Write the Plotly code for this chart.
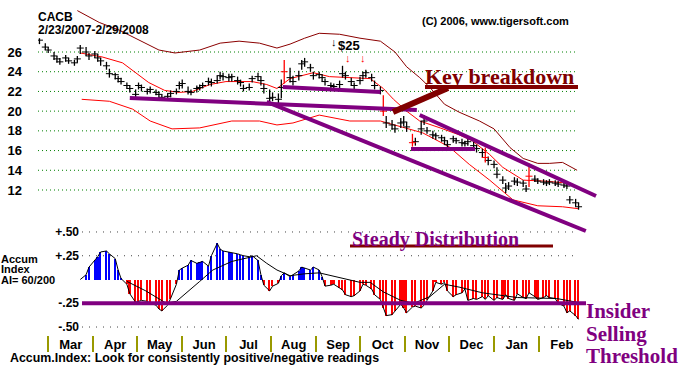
import pandas as pd
import plotly.graph_objects as go

# ---------------- data ----------------
dates = list(pd.bdate_range("2007-02-23", "2008-02-29")[::2])

close = [27.2, 26.5, 26.2, 25.6, 25.3, 25.0, 25.4, 25.1, 24.9, 25.3,
         26.4, 26.0, 25.6, 25.8, 25.4, 25.1, 24.6, 23.8, 23.7, 23.3,
         23.0, 22.6, 22.3, 21.7, 22.6, 22.4, 22.0, 22.2, 21.9, 21.7,
         21.4, 21.5, 21.8, 22.0, 22.6, 22.8, 22.0, 21.9, 22.3, 22.4,
         22.6, 23.0, 22.9, 23.1, 23.6, 23.5, 23.4, 23.5, 23.1, 22.9,
         22.3, 22.4, 23.3, 23.5, 23.1, 22.3, 21.3, 21.4, 21.2, 22.4,
         24.0, 23.4, 23.0, 23.6, 24.8, 25.0, 24.4, 23.6, 23.7, 23.4,
         23.0, 22.6, 22.5, 22.7, 23.8, 23.6, 23.0, 22.6, 23.1, 23.6,
         23.9, 23.4, 22.6, 22.1, 20.0, 18.8, 18.6, 18.2, 18.8, 18.9,
         18.4, 16.8, 16.9, 18.2, 19.0, 18.0, 17.6, 17.5, 17.3, 17.0,
         16.6, 17.2, 17.0, 16.8, 16.7, 16.9, 16.5, 16.2, 15.8, 15.3,
         15.0, 14.6, 13.6, 13.0, 12.2, 12.4, 12.9, 12.8, 12.7, 12.1,
         13.4, 13.1, 12.9, 12.8, 12.7, 12.8, 12.7, 12.6, 12.5, 12.4,
         11.0, 10.7, 10.3]
high = [27.4, 26.9, 26.5, 26.0, 25.6, 25.4, 25.7, 25.4, 25.2, 25.6,
        26.7, 26.5, 25.9, 26.1, 25.8, 25.4, 25.0, 24.3, 23.9, 23.6,
        23.4, 22.9, 22.6, 22.2, 22.9, 22.7, 22.3, 22.5, 22.2, 22.0,
        21.7, 21.8, 22.1, 22.3, 23.0, 23.2, 22.5, 22.2, 22.6, 22.7,
        22.9, 23.4, 23.3, 23.6, 24.0, 23.9, 23.8, 23.8, 23.5, 23.2,
        22.7, 22.8, 23.6, 23.9, 23.5, 22.8, 22.2, 21.9, 21.8, 23.2,
        25.2, 24.4, 23.6, 24.1, 25.2, 25.4, 24.8, 24.0, 24.0, 23.7,
        23.3, 22.9, 22.8, 23.1, 24.6, 24.0, 23.4, 22.9, 23.5, 24.0,
        24.2, 23.8, 23.1, 22.5, 21.6, 19.5, 19.1, 18.6, 19.3, 19.5,
        18.9, 17.7, 17.3, 19.0, 19.6, 18.4, 18.0, 17.8, 17.6, 17.4,
        17.0, 17.5, 17.3, 17.2, 17.0, 17.2, 16.9, 16.6, 16.2, 16.3,
        15.4, 15.0, 14.3, 13.4, 12.7, 12.8, 13.3, 13.2, 13.0, 12.5,
        14.7, 13.5, 13.2, 13.1, 13.0, 13.1, 13.0, 12.9, 12.8, 12.7,
        11.4, 11.1, 10.7]
low = [26.8, 26.2, 25.9, 25.2, 24.9, 24.7, 25.0, 24.8, 24.6, 24.9,
       25.8, 25.6, 25.2, 25.4, 25.0, 24.6, 24.2, 23.4, 23.2, 22.9,
       22.7, 22.3, 21.9, 21.3, 22.2, 22.0, 21.7, 21.8, 21.6, 21.3,
       21.1, 21.1, 21.4, 21.7, 22.2, 22.3, 21.7, 21.6, 21.9, 22.1,
       22.3, 22.6, 22.5, 22.8, 23.2, 23.1, 23.0, 23.0, 22.7, 22.5,
       22.0, 22.1, 22.9, 23.1, 22.6, 21.8, 20.8, 21.0, 20.8, 21.3,
       22.8, 22.9, 22.6, 23.1, 24.2, 24.5, 24.0, 23.2, 23.3, 23.0,
       22.6, 22.2, 22.1, 22.3, 23.4, 23.2, 22.6, 22.2, 22.7, 23.2,
       23.4, 23.0, 22.2, 21.7, 19.5, 18.3, 18.1, 17.8, 18.3, 18.5,
       17.9, 16.4, 16.5, 17.6, 18.6, 17.7, 17.2, 17.1, 16.9, 16.6,
       16.3, 16.8, 16.7, 16.4, 16.4, 16.5, 16.1, 15.8, 15.3, 14.8,
       14.5, 14.2, 13.2, 12.6, 11.7, 12.0, 12.5, 12.4, 12.3, 11.8,
       12.3, 12.8, 12.6, 12.5, 12.4, 12.5, 12.4, 12.3, 12.2, 12.1,
       10.6, 10.3, 10.0]
red_bars = [60, 84, 91, 109, 120]

upper_dates = ["2007-03-21", "2007-04-05", "2007-04-19", "2007-05-03", "2007-05-16", "2007-05-27",
               "2007-06-13", "2007-06-27", "2007-07-10", "2007-07-24", "2007-08-05", "2007-08-14",
               "2007-08-24", "2007-09-03", "2007-09-17", "2007-10-01", "2007-10-15", "2007-10-25",
               "2007-11-02", "2007-11-11", "2007-11-18", "2007-11-28", "2007-12-08", "2007-12-22",
               "2008-01-01", "2008-01-12", "2008-01-21", "2008-01-31", "2008-02-08", "2008-02-17",
               "2008-02-27"]
upper_vals = [30.2, 29.0, 28.2, 27.2, 26.2, 25.9, 26.2, 26.9, 27.1, 26.9, 26.4, 26.8, 27.4, 27.9,
              27.8, 27.4, 27.1, 26.0, 24.5, 23.4, 22.4, 20.7, 19.9, 19.0, 18.2, 16.3, 15.2, 14.7,
              14.7, 14.8, 14.0]

ma_dates = ["2007-03-23", "2007-04-07", "2007-04-21", "2007-04-30", "2007-05-09", "2007-05-20",
            "2007-05-30", "2007-06-08", "2007-06-20", "2007-07-01", "2007-07-19", "2007-07-29",
            "2007-08-05", "2007-08-14", "2007-08-30", "2007-09-10", "2007-09-22", "2007-10-01",
            "2007-10-08", "2007-10-17", "2007-10-24", "2007-11-02", "2007-11-11", "2007-11-25",
            "2007-12-08", "2007-12-17", "2007-12-29", "2008-01-07", "2008-01-21", "2008-02-05",
            "2008-02-20", "2008-02-28"]
ma_vals = [25.9, 25.5, 24.9, 23.9, 22.9, 22.1, 21.9, 22.0, 22.7, 23.0, 23.0, 22.7, 22.3, 23.3,
           23.9, 23.5, 23.4, 23.4, 23.3, 22.3, 21.2, 20.0, 19.0, 18.3, 17.6, 17.0, 15.6, 14.3,
           13.0, 12.9, 12.7, 12.2]

lower_dates = ["2007-03-24", "2007-04-12", "2007-04-28", "2007-05-10", "2007-05-25", "2007-06-13",
               "2007-07-05", "2007-07-24", "2007-08-05", "2007-08-16", "2007-09-03", "2007-09-24",
               "2007-10-15", "2007-10-29", "2007-11-13", "2007-12-01", "2007-12-15", "2007-12-29",
               "2008-01-14", "2008-01-31", "2008-02-17", "2008-02-28"]
lower_vals = [21.2, 21.0, 20.2, 19.0, 18.2, 18.3, 19.0, 19.0, 18.6, 18.8, 19.6, 19.0, 19.0, 18.4,
              17.8, 16.4, 14.6, 13.0, 11.0, 10.4, 10.3, 10.1]

accum_index = [None] * 10 + [
    0.00, 0.05, 0.13, 0.20, 0.24, 0.29, 0.30, 0.27, 0.22, 0.10,
    0.01, -0.05, -0.15, -0.24, -0.23, -0.22, -0.23, -0.25, -0.27, -0.31,
    -0.33, -0.27, -0.20, -0.05, 0.10, 0.12, 0.15, 0.20, 0.17, 0.18,
    0.19, 0.14, 0.25, 0.38, 0.32, 0.30, 0.29, 0.28, 0.27, 0.26,
    0.25, 0.24, 0.25, 0.20, 0.05, -0.06, -0.12, -0.07, -0.04, 0.04,
    0.07, 0.03, 0.05, 0.09, 0.13, 0.12, 0.10, 0.13, 0.10, 0.03,
    -0.07, -0.06, -0.05, -0.09, -0.11, -0.16, -0.18, -0.17, -0.12, -0.05,
    -0.06, -0.10, -0.16, -0.21, -0.30, -0.38, -0.37, -0.33, -0.26, -0.30,
    -0.35, -0.29, -0.28, -0.30, -0.27, -0.22, -0.12, -0.03, -0.05, -0.03,
    -0.12, -0.18, -0.16, -0.14, -0.10, -0.22, -0.20, -0.21, -0.18, -0.21,
    -0.17, -0.22, -0.19, -0.21, -0.16, -0.20, -0.22, -0.15, -0.19, -0.20,
    -0.14, -0.18, -0.21, -0.19, -0.17, -0.19, -0.20, -0.25, -0.28, -0.35,
    -0.33, -0.38, -0.42]

ai_ma_dates = ["2007-04-24", "2007-05-07", "2007-05-21", "2007-05-28", "2007-06-13", "2007-06-22",
               "2007-07-05", "2007-07-22", "2007-07-29", "2007-08-05", "2007-08-14", "2007-08-24",
               "2007-09-03", "2007-09-22", "2007-10-01", "2007-10-08", "2007-10-17", "2007-10-29",
               "2007-11-07", "2007-11-18", "2007-11-28", "2007-12-08", "2007-12-24", "2008-01-17",
               "2008-02-13", "2008-02-27"]
ai_ma_vals = [-0.02, -0.12, -0.25, -0.23, -0.02, 0.10, 0.19, 0.25, 0.17, 0.10, 0.04, 0.06, 0.07,
              0.00, -0.03, -0.03, -0.13, -0.22, -0.25, -0.18, -0.05, -0.08, -0.14, -0.19, -0.20, -0.24]

support_dates = ["2007-04-26", "2007-11-09"]
support_vals = [21.33, 20.12]
shelf_dates = ["2007-08-09", "2007-10-15"]
shelf_vals = [22.45, 21.94]
chan_low_dates = ["2007-07-29", "2008-03-04"]
chan_low_vals = [20.93, 7.84]
chan_high_dates = ["2007-11-11", "2008-03-11"]
chan_high_vals = [19.61, 11.39]
base_dates = ["2007-11-05", "2007-12-19"]
base_vals = [16.16, 16.16]

price_ticks = [12, 14, 16, 18, 20, 22, 24, 26]
ai_ticks = [0.5, 0.25, -0.25, -0.5]
ai_tick_text = ["+.50", "+.25", "-.25", "-.50"]
ai_threshold = -0.25

# ---------------- helpers for pixel layout ----------------
W, H = 700, 368
def px(v):
    return v / W
def py(v):
    return 1 - v / H

SANS = "Liberation Sans, Arial, sans-serif"
SERIF = "Liberation Serif, Times New Roman, serif"
PURPLE = "#800080"
DARKRED = "#800000"

fig = go.Figure()

# bands
fig.add_trace(go.Scatter(x=upper_dates, y=upper_vals, mode="lines", line=dict(color="#8B0000", width=1),
                         xaxis="x", yaxis="y", hoverinfo="skip"))
fig.add_trace(go.Scatter(x=ma_dates, y=ma_vals, mode="lines", line=dict(color="#FF0000", width=1),
                         xaxis="x", yaxis="y", hoverinfo="skip"))
fig.add_trace(go.Scatter(x=lower_dates, y=lower_vals, mode="lines", line=dict(color="#FF0000", width=1),
                         xaxis="x", yaxis="y", hoverinfo="skip"))

# price bars
n = len(dates)
black_idx = [i for i in range(n) if i not in red_bars]
for idx, col in [(black_idx, "black"), (red_bars, "#FF0000")]:
    fig.add_trace(go.Scatter(
        x=[dates[i] for i in idx], y=[close[i] for i in idx], mode="markers",
        marker=dict(symbol="line-ew", size=5, line=dict(color=col, width=1)),
        error_y=dict(type="data", symmetric=False,
                     array=[high[i] - close[i] for i in idx],
                     arrayminus=[close[i] - low[i] for i in idx],
                     color=col, thickness=1.3, width=0),
        xaxis="x", yaxis="y", hoverinfo="skip"))

# trend lines
for xs, ys in [(support_dates, support_vals), (shelf_dates, shelf_vals), (chan_low_dates, chan_low_vals),
               (chan_high_dates, chan_high_vals), (base_dates, base_vals)]:
    fig.add_trace(go.Scatter(x=xs, y=ys, mode="lines", line=dict(color=PURPLE, width=4),
                             xaxis="x", yaxis="y", hoverinfo="skip"))

# accumulation index
ai_colors = ["#0000FF" if (v is not None and v >= 0) else "#FF0000" for v in accum_index]
fig.add_trace(go.Bar(x=dates, y=accum_index, marker=dict(color=ai_colors, line=dict(width=0)),
                     width=1.1 * 86400000, xaxis="x2", yaxis="y2", hoverinfo="skip"))
fig.add_trace(go.Scatter(x=dates, y=accum_index, mode="lines", line=dict(color="black", width=1),
                         xaxis="x2", yaxis="y2", hoverinfo="skip", connectgaps=False))
fig.add_trace(go.Scatter(x=ai_ma_dates, y=ai_ma_vals, mode="lines", line=dict(color="black", width=1),
                         xaxis="x2", yaxis="y2", hoverinfo="skip"))

shapes = []
for v in price_ticks:
    shapes.append(dict(type="line", xref="paper", yref="y", x0=px(38), x1=px(577), y0=v, y1=v,
                       line=dict(color="#008000", width=1, dash="1px,3px"), layer="below"))
for v in ai_ticks:
    if v == ai_threshold:
        continue
    shapes.append(dict(type="line", xref="paper", yref="y2", x0=px(82), x1=px(575), y0=v, y1=v,
                       line=dict(color="#444444", width=1, dash="1px,6px"), layer="below"))
shapes.append(dict(type="line", xref="paper", yref="y2", x0=px(82), x1=px(586), y0=ai_threshold,
                   y1=ai_threshold, line=dict(color=PURPLE, width=4)))
# decorations (paper)
shapes.append(dict(type="line", xref="paper", yref="paper", x0=px(425), x1=px(578), y0=py(87), y1=py(87),
                   line=dict(color=DARKRED, width=4)))
shapes.append(dict(type="line", xref="paper", yref="paper", x0=px(393), x1=px(448), y0=py(112), y1=py(88),
                   line=dict(color=DARKRED, width=6)))
shapes.append(dict(type="line", xref="paper", yref="paper", x0=px(350), x1=px(553), y0=py(246), y1=py(246),
                   line=dict(color=DARKRED, width=3)))

def ann(text, x, y, size=12, color="black", family=SANS, weight="bold"):
    return dict(text=text, x=px(x), y=py(y), xref="paper", yref="paper", xanchor="left", yanchor="middle",
                showarrow=False, font=dict(size=size, color=color, family=family, weight=weight),
                borderpad=0)

annotations = [
    ann("CACB", 37, 17),
    ann("2/23/2007-2/29/2008", 37, 30),
    ann("(C) 2006, www.tigersoft.com", 421, 21, size=11),
    ann("↓", 330, 42, size=11),
    ann("$25", 337, 45, size=13),
    ann("↓", 344, 58, size=11, color="#FF0000"),
    ann("↓", 359, 58, size=11, color="#FF0000"),
    ann("Key breakdown", 424, 76, size=22, color=DARKRED, family=SERIF),
    ann("Steady Distribution", 351, 239, size=20, color=PURPLE, family=SERIF),
    ann("Insider", 585, 311, size=21, color=PURPLE, family=SERIF),
    ann("Selling", 585, 334, size=21, color=PURPLE, family=SERIF),
    ann("Threshold", 585, 356, size=21, color=PURPLE, family=SERIF),
    ann("Accum", 0, 259, size=11),
    ann("Index", 0, 269, size=11),
    ann("AI= 60/200", 0, 280, size=11),
    ann("Accum.Index: Look for consistently positive/negative readings", 9, 358, size=12.4),
]

fig.update_layout(
    width=W, height=H, margin=dict(l=0, r=0, t=0, b=0),
    paper_bgcolor="white", plot_bgcolor="rgba(0,0,0,0)", showlegend=False,
    bargap=0,
    xaxis=dict(domain=[px(38), px(620)], range=["2007-02-22", "2008-03-27 10:48"], visible=False,
               anchor="y", fixedrange=True),
    yaxis=dict(domain=[py(240), py(5)], range=[6.927, 30.768], anchor="x", tickvals=price_ticks,
               ticktext=[str(v) for v in price_ticks], showgrid=False, zeroline=False, showline=False,
               ticks="", ticklabelstandoff=15,
               tickfont=dict(family=SANS, size=13, color="black", weight="bold")),
    xaxis2=dict(domain=[px(38), px(580)], range=["2007-02-22", "2008-02-29"], anchor="free",
                position=py(335), tickmode="linear", tick0="2007-03-01", dtick="M1", tickformat="%b",
                ticklabelmode="period", ticks="outside", ticklen=16, tickcolor="#999900", tickwidth=2,
                showgrid=False, showline=False, zeroline=False, ticklabelstandoff=-19,
                tickfont=dict(family=SANS, size=13, color="black", weight="bold")),
    yaxis2=dict(domain=[py(337), py(222)], range=[-0.605, 0.605], anchor="free", position=px(82),
                tickvals=ai_ticks, ticktext=ai_tick_text, showgrid=False, zeroline=False, showline=False,
                ticks="", ticklabelstandoff=3,
                tickfont=dict(family=SANS, size=12, color="black", weight="bold")),
    shapes=shapes, annotations=annotations,
)

fig.write_html("out.html", config={"displayModeBar": False},
               post_script="document.body.style.margin='0';document.body.style.overflow='hidden';")
